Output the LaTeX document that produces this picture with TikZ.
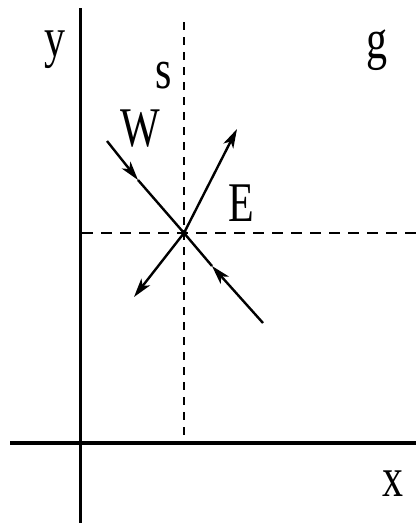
\documentclass[tikz,border=0pt]{standalone}
\usepackage{fontspec}
\setmainfont{Liberation Serif}
\usetikzlibrary{arrows.meta}
\tikzset{
  axis/.style  ={draw=black, line width=3.5pt},
  guide/.style ={draw=black, dashed, line width=1.2pt, dash pattern=on 8pt off 7pt},
  hguide/.style={draw=black, line width=2.5pt, dash pattern=on 11pt off 8pt},
  ray/.style   ={draw=black, line width=2.4pt},
  ar/.style    ={ray, -{Stealth[length=19pt,width=11pt,inset=5pt]}},
  lbl/.style   ={font=\fontsize{56}{56}\selectfont, inner sep=0pt, xscale=0.75},
}
\begin{document}
\begin{tikzpicture}[x=1pt,y=-1pt]
\useasboundingbox (0,0) rectangle (416,523);
% axes
\coordinate (yb) at (80,523); \coordinate (yt) at (80,8);
\coordinate (xl) at (10,443); \coordinate (xr) at (416,443);
\draw[axis,line width=3pt] (yb) -- (yt);
\draw[axis,line width=4.5pt] (xl) -- (xr);
% guides through the point
\coordinate (c) at (184,233);
\coordinate (gt) at (184,22); \coordinate (gb) at (184,436);
\coordinate (gl) at (82,233); \coordinate (gr) at (416,233);
\draw[guide] (gt) -- (gb);
\draw[hguide] (gl) -- (gr);
% incoming W
\coordinate (w1) at (107,141); \coordinate (w1m) at (138,180);
\coordinate (w2) at (263,323); \coordinate (w2m) at (212,266);
\draw[ar] (w1) -- (w1m); \draw[ray] (w1m) -- (c);
\draw[ar] (w2) -- (w2m); \draw[ray] (w2m) -- (c);
% outgoing E
\coordinate (e1) at (237,129); \coordinate (e2) at (134,297);
\draw[ar] (c) -- (e1);
\draw[ar] (c) -- (e2);
\fill (c) circle (3pt);
% labels
\node[lbl] (ly) at (55,50) {y};
\node[lbl] (lg) at (377,50) {g};
\node[lbl] (ls) at (164,76) {s};
\node[lbl] (lw) at (140,129) {W};
\node[lbl] (le) at (241,203) {E};
\node[lbl] (lx) at (393,484) {x};
\end{tikzpicture}
\end{document}
